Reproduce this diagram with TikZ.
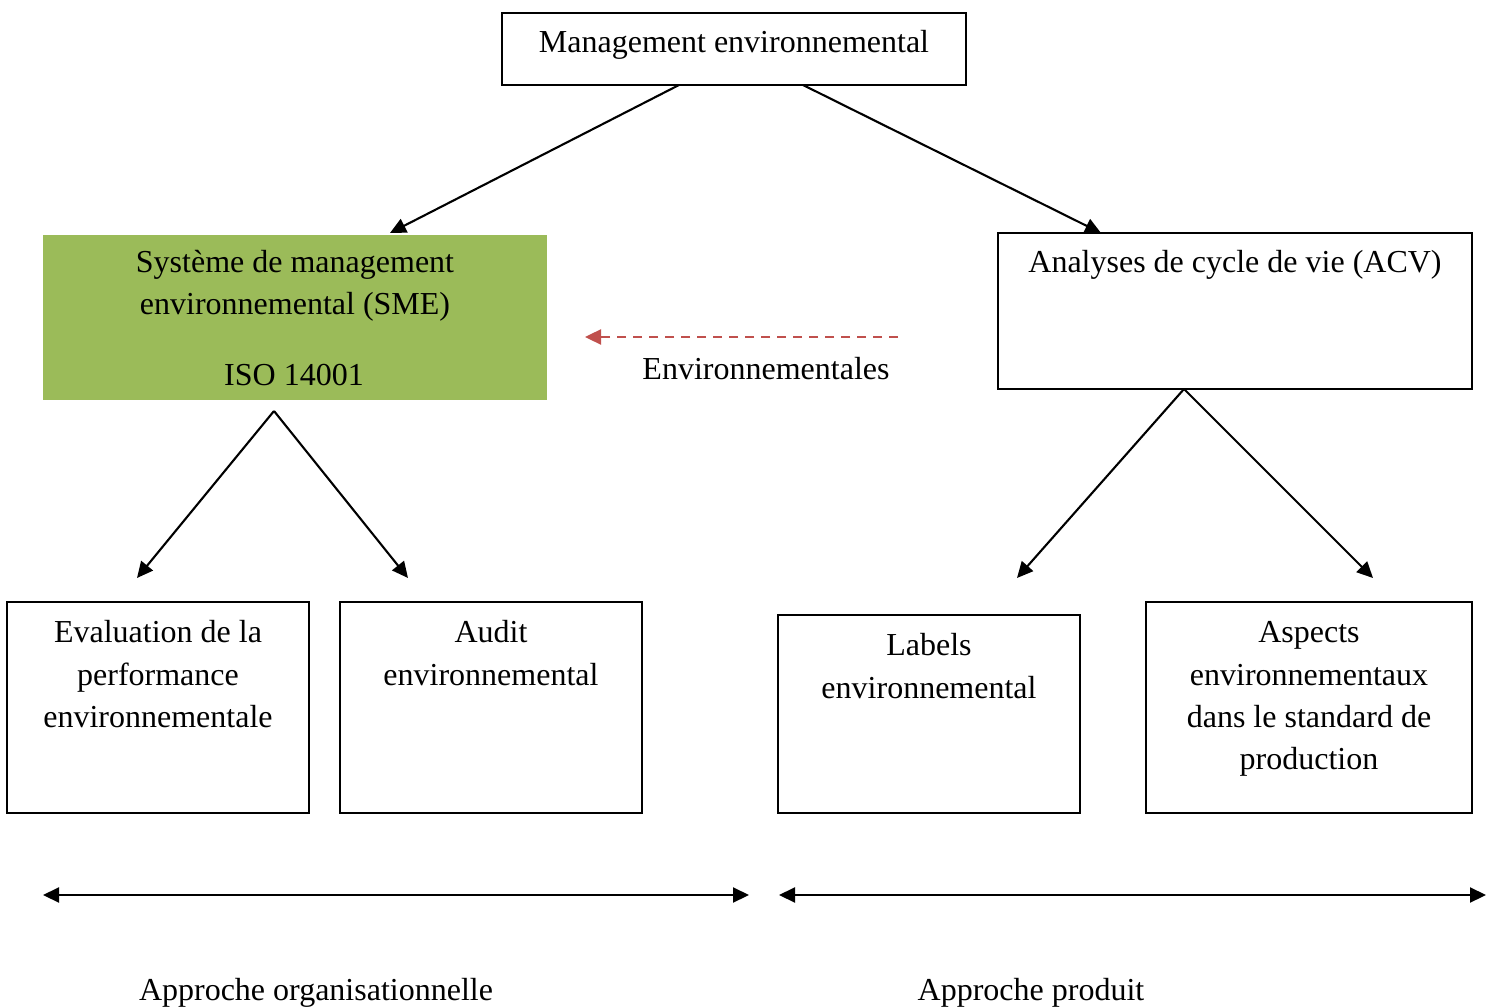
\documentclass[tikz,border=0pt]{standalone}
\usepackage{fontspec}
\setmainfont{Liberation Serif}
\usetikzlibrary{arrows.meta}
\definecolor{smegreen}{HTML}{9BBB59}
\definecolor{dashred}{HTML}{C0504D}
\begin{document}
\begin{tikzpicture}[x=1pt,y=-1pt,
  box/.style={draw=black,line width=1.8pt,rectangle,inner sep=0pt},
  txt/.style={anchor=base,inner sep=0pt,font=\fontsize{32}{43}\selectfont},
  arr/.style={line width=2.1pt,-{Triangle[length=16pt,width=15pt]}},
  darr/.style={line width=2.1pt,{Triangle[length=16pt,width=15pt]}-{Triangle[length=16pt,width=15pt]}}]
\useasboundingbox (0,0) rectangle (1494,1008);
% boxes
\node[box,minimum width=464pt,minimum height=72pt] (top) at (734,49) {};
\node[rectangle,fill=smegreen,inner sep=0pt,minimum width=504pt,minimum height=165pt] (sme) at (295,317.5) {};
\node[box,minimum width=474pt,minimum height=156pt] (acv) at (1235,311) {};
\node[box,minimum width=302pt,minimum height=211pt] (eval) at (158,707.5) {};
\node[box,minimum width=302pt,minimum height=211pt] (audit) at (491,707.5) {};
\node[box,minimum width=302pt,minimum height=198pt] (labels) at (929,714) {};
\node[box,minimum width=326pt,minimum height=211pt] (aspects) at (1309,707.5) {};
% texts
\node[txt] (ttop) at (734,53) {Management environnemental};
\node[txt] (tsme1) at (295,273) {Système de management};
\node[txt] (tsme2) at (295,315) {environnemental (SME)};
\node[txt] (tsme3) at (294,385) {ISO 14001};
\node[txt] (tacv) at (1235,273) {Analyses de cycle de vie (ACV)};
\node[txt] (tenv) at (766,379) {Environnementales};
\node[txt] (te1) at (158,642) {Evaluation de la};
\node[txt] (te2) at (158,685) {performance};
\node[txt] (te3) at (158,727) {environnementale};
\node[txt] (ta1) at (491,642) {Audit};
\node[txt] (ta2) at (491,685) {environnemental};
\node[txt] (tl1) at (929,655) {Labels};
\node[txt] (tl2) at (929,698) {environnemental};
\node[txt] (tp1) at (1309,642) {Aspects};
\node[txt] (tp2) at (1309,685) {environnementaux};
\node[txt] (tp3) at (1309,727) {dans le standard de};
\node[txt] (tp4) at (1309,769) {production};
\node[txt] (torg) at (316,1000) {Approche organisationnelle};
\node[txt] (tprod) at (1031,1000) {Approche produit};
% coordinates
\coordinate (topL) at (679,85);
\coordinate (topR) at (803,85);
\coordinate (smeIn) at (390,233);
\coordinate (acvIn) at (1101,233);
\coordinate (smeOut) at (274,411);
\coordinate (e1) at (137,578);
\coordinate (e2) at (408,578);
\coordinate (acvOut) at (1184,389);
\coordinate (e3) at (1017,578);
\coordinate (e4) at (1373,578);
\coordinate (dS) at (898,337);
\coordinate (dE) at (585,337);
\coordinate (h1) at (43,895);
\coordinate (h2) at (749,895);
\coordinate (h3) at (779,895);
\coordinate (h4) at (1486,895);
% connectors
\draw[arr] (topL) -- (smeIn);
\draw[arr] (topR) -- (acvIn);
\draw[arr] (smeOut) -- (e1);
\draw[arr] (smeOut) -- (e2);
\draw[arr] (acvOut) -- (e3);
\draw[arr] (acvOut) -- (e4);
\draw[dashred,line width=2.4pt,dash pattern=on 9pt off 7pt,-{Triangle[length=16pt,width=15pt]}] (dS) -- (dE);
\draw[darr] (h1) -- (h2);
\draw[darr] (h3) -- (h4);
\end{tikzpicture}
\end{document}
